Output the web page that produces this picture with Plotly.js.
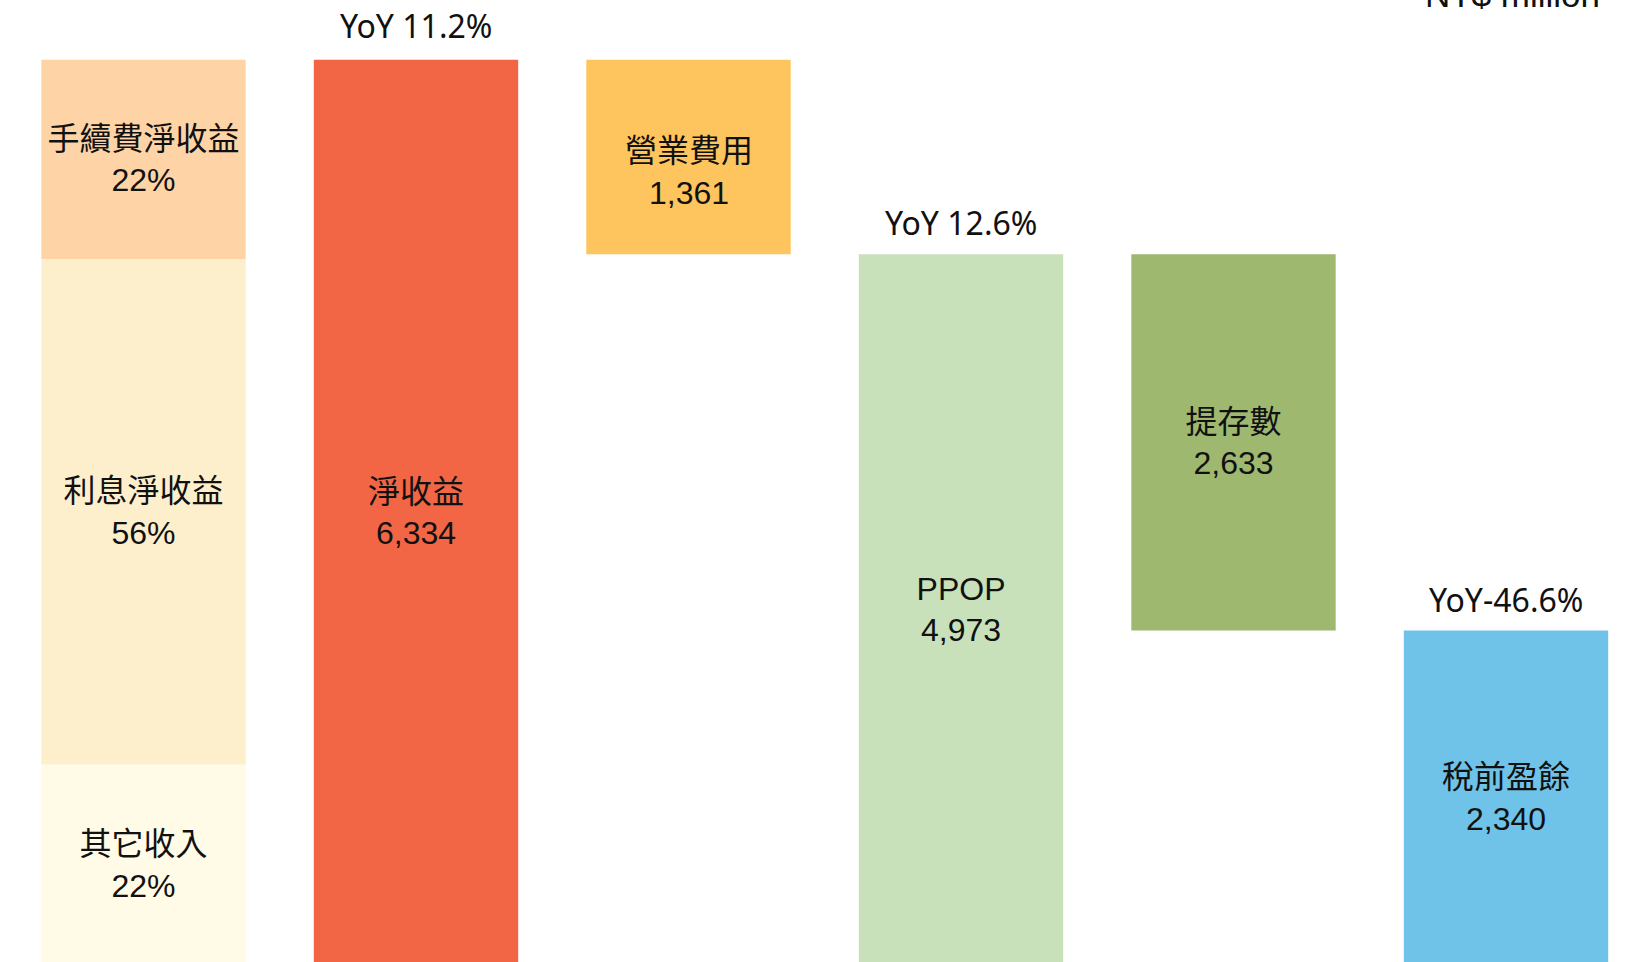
<!DOCTYPE html>
<html>
<head>
<meta charset="utf-8">
<script src="https://cdn.plot.ly/plotly-3.0.1.min.js"></script>
<style>html,body{margin:0;padding:0;background:#fff;}#chart{width:1625px;height:962px;}</style>
</head>
<body>
<div id="chart"></div>
<script>
// ---- data ----
const categories = ["收入組成", "淨收益", "營業費用", "PPOP", "提存數", "稅前盈餘"];
const mixNames = ["其它收入", "利息淨收益", "手續費淨收益"];
const mixValues = [1403, 3538, 1393];          // NT$ million, bottom to top
const mixShares = ["22%", "56%", "22%"];
const flowNames = ["淨收益", "營業費用", "PPOP", "提存數", "稅前盈餘"];
const flowValues = [6334, 1361, 4973, 2633, 2340];
const flowLabels = ["6,334", "1,361", "4,973", "2,633", "2,340"];
const flowKinds = ["total", "minus", "total", "minus", "total"];
const yoyCategories = ["淨收益", "PPOP", "稅前盈餘"];
const yoyLabels = ["YoY 11.2%", "YoY 12.6%", "YoY-46.6%"];
const unitLabel = "NT$ million";

// ---- styles ----
const mixColors = ["#FFFBE7", "#FDEFCB", "#FED4A6"];
const flowColors = ["#F26645", "#FEC45E", "#C8E1BA", "#9EB86F", "#6FC3E8"];
const FONT = 'Arial, "Liberation Sans", "Noto Sans CJK TC", sans-serif';
const YOYFONT = '"Noto Sans", "Noto Sans CJK TC", sans-serif';
const BAR_W = 0.75;
const LABEL_SIZE = 32;
const SHIFTED_LABEL = "營業費用";   // label drawn lower in its bar in the reference
const SHIFT_PX = -15;

const traces = [];
// stacked composition bar
let acc = 0;
mixValues.forEach((v, i) => {
  traces.push({
    type: "bar",
    x: [categories[0]],
    y: [v],
    base: [acc],
    width: [BAR_W],
    marker: {color: mixColors[i], line: {width: 0}},
    text: [mixNames[i] + "<br>" + mixShares[i]],
    textposition: "inside",
    insidetextanchor: "middle",
    textangle: 0,
    textfont: {family: FONT, size: LABEL_SIZE, color: "#111"},
    hoverinfo: "skip"
  });
  acc += v;
});

// waterfall bars
const flowBases = [];
let running = 0;
flowValues.forEach((v, i) => {
  if (flowKinds[i] === "total") { flowBases.push(0); running = v; }
  else { running = running - v; flowBases.push(running); }
});
for (let i = 0; i < flowValues.length; i++) {
  if (flowKinds[i] === "minus") flowBases[i] = flowValues[i + 1];
}

traces.push({
  type: "bar",
  x: categories.slice(1),
  y: flowValues,
  base: flowBases,
  width: flowValues.map(() => BAR_W),
  marker: {color: flowColors, line: {width: 0}},
  text: flowNames.map((n, i) => n === SHIFTED_LABEL ? "" : n + "<br>" + flowLabels[i]),
  textposition: "inside",
  insidetextanchor: "middle",
  textangle: 0,
  textfont: {family: FONT, size: LABEL_SIZE, color: "#111"},
  hoverinfo: "skip"
});

const yoyShift = [34, 32, 31];
const annotations = yoyCategories.map((c, i) => {
  const idx = flowNames.indexOf(c);
  return {
    x: c, xref: "x",
    y: flowBases[idx] + flowValues[idx], yref: "y",
    text: yoyLabels[i],
    showarrow: false,
    xanchor: "center", yanchor: "middle",
    yshift: yoyShift[i],
    font: {family: YOYFONT, size: 32, color: "#111"}
  };
});
{
  const idx = flowNames.indexOf(SHIFTED_LABEL);
  annotations.push({
    x: SHIFTED_LABEL, xref: "x",
    y: flowBases[idx] + flowValues[idx] / 2, yref: "y",
    text: flowNames[idx] + "<br>" + flowLabels[idx],
    showarrow: false,
    xanchor: "center", yanchor: "middle",
    yshift: SHIFT_PX,
    font: {family: FONT, size: LABEL_SIZE, color: "#111"}
  });
}
annotations.push({
  x: 1512 / 1625, xref: "paper",
  y: 1, yref: "paper",
  text: unitLabel,
  showarrow: false,
  xanchor: "center", yanchor: "middle",
  yshift: 6,
  font: {family: FONT, size: 35, color: "#111"}
});

const layout = {
  width: 1625, height: 962,
  margin: {l: 0, r: 0, t: 0, b: 0, pad: 0},
  paper_bgcolor: "#fff", plot_bgcolor: "#fff",
  showlegend: false,
  barmode: "overlay",
  xaxis: {type: "category", categoryorder: "array", categoryarray: categories,
          range: [-0.5266, 5.4367], visible: false, fixedrange: true},
  yaxis: {range: [21, 6753], visible: false, fixedrange: true},
  annotations: annotations
};

Plotly.newPlot("chart", traces, layout, {staticPlot: true, displayModeBar: false});
</script>
</body>
</html>
